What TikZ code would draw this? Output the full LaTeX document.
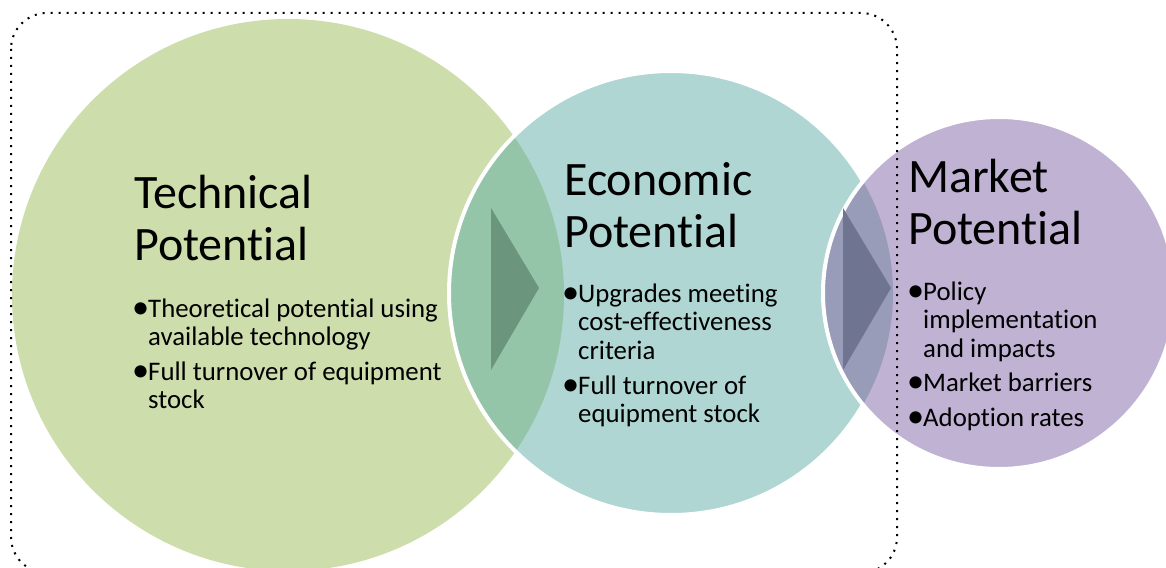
\documentclass[tikz,border=0pt]{standalone}
\usepackage{fontspec}
\setmainfont{Carlito}[Ligatures=NoCommon]
\definecolor{greenc}{HTML}{CEDDAC}
\definecolor{tealc}{HTML}{AFD6D3}
\definecolor{lensa}{HTML}{95C5A8}
\definecolor{tria}{HTML}{6C957E}
\definecolor{purpc}{HTML}{C0B2D3}
\definecolor{lensb}{HTML}{989CB8}
\definecolor{trib}{HTML}{6F7590}
\newcommand{\tlines}[1]{\begin{tabular}[t]{@{}l@{}}#1\end{tabular}}
\newcommand{\bitem}[1]{\begin{tabular}[t]{@{}l@{}l@{}}\makebox[13pt][l]{\hspace{-3pt}\raisebox{-1.6pt}{\scalebox{1.28}{•}}}&#1\end{tabular}}
\begin{document}
\begin{tikzpicture}[x=1pt,y=-1pt,
  ttl/.style={anchor=base west, inner sep=0pt, font=\fontsize{48}{52}\selectfont},
  bul/.style={anchor=base west, inner sep=0pt, font=\fontsize{26.8}{28.5}\selectfont},
  ring/.style={draw=white, line width=4pt}]
\useasboundingbox (0,0) rectangle (1166,567);
\clip (0,0) rectangle (1166,567);
% circles
\fill[greenc] (288,295) circle[radius=276];
\fill[tealc] (671,293) circle[radius=222];
\begin{scope}
  \clip (288,295) circle[radius=276];
  \fill[lensa] (671,293) circle[radius=222];
\end{scope}
\draw[ring] (671,293) circle[radius=222];
\fill[purpc] (999,293) circle[radius=176];
\begin{scope}
  \clip (671,293) circle[radius=222];
  \fill[lensb] (999,293) circle[radius=176];
\end{scope}
\draw[ring] (999,293) circle[radius=176];
% arrows
\fill[tria] (491,208) -- (491,370) -- (539,288) -- cycle;
\fill[trib] (843,208) -- (843,370) -- (891,288) -- cycle;
% dotted frame
\draw[dash pattern=on 2pt off 6pt, line width=2pt, rounded corners=36pt] (11,13) rectangle (897,573);
% texts
\node[ttl] (t1) at (134,208) {\tlines{Technical\\Potential}};
\node[bul] (b11) at (135,317) {\bitem{Theoretical potential using\\&available technology}};
\node[bul] (b12) at (135,380) {\bitem{Full turnover of equipment\\&stock}};
\node[ttl] (t2) at (564,195) {\tlines{Economic\\Potential}};
\node[bul] (b21) at (565,302) {\bitem{Upgrades meeting\\&cost-effectiveness\\&criteria}};
\node[bul] (b22) at (565,394) {\bitem{Full turnover of\\&equipment stock}};
\node[ttl] (t3) at (908,192) {\tlines{Market\\Potential}};
\node[bul] (b31) at (910,300) {\bitem{Policy\\&implementation\\&and impacts}};
\node[bul] (b32) at (910,391) {\bitem{Market barriers}};
\node[bul] (b33) at (910,426) {\bitem{Adoption rates}};
\end{tikzpicture}
\end{document}
